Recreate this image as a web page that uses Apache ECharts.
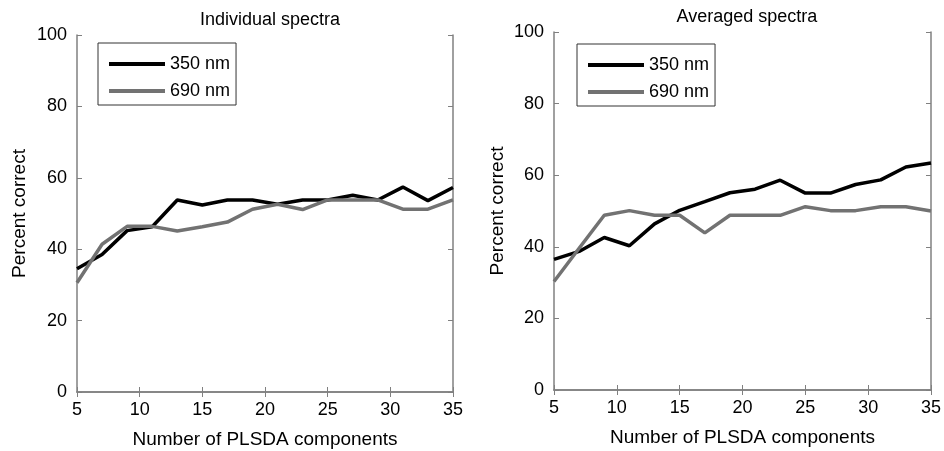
<!DOCTYPE html>
<html>
<head>
<meta charset="UTF-8">
<title>PLSDA percent correct</title>
<script src="https://cdn.jsdelivr.net/npm/echarts@6/dist/echarts.min.js"></script>
<style>
  html, body { margin: 0; padding: 0; background: #fff; }
  #chart { width: 944px; height: 451px; }
</style>
</head>
<body>
<div id="chart"></div>
<script>
// number of components (x)
var components = [5, 7, 9, 11, 13, 15, 17, 19, 21, 23, 25, 27, 29, 31, 33, 35];

// Individual spectra
var indiv350 = [34.5, 38.5, 45.2, 46.3, 53.8, 52.4, 53.8, 53.8, 52.6, 53.8, 53.8, 55.1, 53.8, 57.4, 53.6, 57.3];
var indiv690 = [30.6, 41.4, 46.4, 46.4, 45.1, 46.3, 47.6, 51.2, 52.6, 51.1, 53.8, 53.8, 53.8, 51.2, 51.2, 53.8];

// Averaged spectra
var avg350 = [36.5, 38.7, 42.6, 40.3, 46.4, 50.2, 52.6, 55.1, 56.1, 58.6, 55.0, 55.0, 57.4, 58.7, 62.3, 63.4];
var avg690 = [30.3, 39.6, 48.8, 50.1, 48.8, 48.8, 43.9, 48.8, 48.8, 48.8, 51.2, 50.1, 50.1, 51.2, 51.2, 50.0];

var titles = ['Individual spectra', 'Averaged spectra'];
var names = ['350 nm', '690 nm'];

function pairs(ys) {
  return components.map(function (x, i) { return [x, ys[i]]; });
}

var font = "'Liberation Sans', Arial, sans-serif";
var frame = '#808080';

// fixed plot boxes, no auto shrinking for labels
var grids = [
  { left: 77, top: 35, width: 376, height: 357, outerBoundsMode: 'none', containLabel: false },
  { left: 554, top: 32, width: 377, height: 358, outerBoundsMode: 'none', containLabel: false }
];

var xAxes = [], yAxes = [];
grids.forEach(function (g, i) {
  xAxes.push({
    type: 'value', gridIndex: i, position: 'bottom', min: 5, max: 35, interval: 5,
    name: 'Number of PLSDA components', nameLocation: 'middle', nameGap: 38,
    nameTextStyle: { fontFamily: font, fontSize: 19, color: '#000' },
    axisLine: { lineStyle: { color: frame, width: 1.5 } },
    axisTick: { inside: true, length: 5, lineStyle: { color: frame } },
    axisLabel: { fontFamily: font, fontSize: 18, color: '#000', margin: 9 },
    splitLine: { show: false }
  });
  xAxes.push({
    type: 'value', gridIndex: i, position: 'top', min: 5, max: 35, interval: 5,
    axisLine: { lineStyle: { color: frame, width: 1.5 } },
    axisTick: { inside: true, length: 5, lineStyle: { color: frame } },
    axisLabel: { show: false }, splitLine: { show: false }
  });
  yAxes.push({
    type: 'value', gridIndex: i, position: 'left', min: 0, max: 100, interval: 20,
    name: 'Percent correct', nameLocation: 'middle', nameGap: i === 0 ? 48 : 47,
    nameTextStyle: { fontFamily: font, fontSize: 19, color: '#000' },
    axisLine: { lineStyle: { color: frame, width: 1.5 } },
    axisTick: { inside: true, length: 5, lineStyle: { color: frame } },
    axisLabel: { fontFamily: font, fontSize: 18, color: '#000', margin: 10 },
    splitLine: { show: false }
  });
  yAxes.push({
    type: 'value', gridIndex: i, position: 'right', min: 0, max: 100, interval: 20,
    axisLine: { lineStyle: { color: frame, width: 1.5 } },
    axisTick: { inside: true, length: 5, lineStyle: { color: frame } },
    axisLabel: { show: false }, splitLine: { show: false }
  });
});

function lineSeries(name, ys, grid, color) {
  return {
    name: name, type: 'line', xAxisIndex: grid * 2, yAxisIndex: grid * 2,
    data: pairs(ys), symbol: 'none', animation: false,
    lineStyle: { color: color, width: 3.5 }, itemStyle: { color: color }
  };
}

var black = '#000000', gray = '#727272';

function legendBox(left, top) {
  return {
    data: names, orient: 'vertical', left: left, top: top,
    icon: 'rect', itemWidth: 56, itemHeight: 4, itemGap: 9,
    padding: [12, 6, 5, 11],
    borderColor: '#333', borderWidth: 1, selectedMode: false,
    textStyle: { fontFamily: font, fontSize: 18, color: '#000' }
  };
}

var option = {
  backgroundColor: '#fff',
  animation: false,
  title: [
    { text: titles[0], left: 265, top: 6, textAlign: 'center',
      textStyle: { fontFamily: font, fontSize: 18, fontWeight: 'normal', color: '#000' } },
    { text: titles[1], left: 742, top: 3, textAlign: 'center',
      textStyle: { fontFamily: font, fontSize: 18, fontWeight: 'normal', color: '#000' } }
  ],
  legend: [legendBox(98, 43), legendBox(577, 44)],
  grid: grids,
  xAxis: xAxes,
  yAxis: yAxes,
  series: [
    lineSeries(names[0], indiv350, 0, black),
    lineSeries(names[1], indiv690, 0, gray),
    lineSeries(names[0], avg350, 1, black),
    lineSeries(names[1], avg690, 1, gray)
  ]
};

var myChart = echarts.init(document.getElementById('chart'));
myChart.setOption(option);
</script>
</body>
</html>
